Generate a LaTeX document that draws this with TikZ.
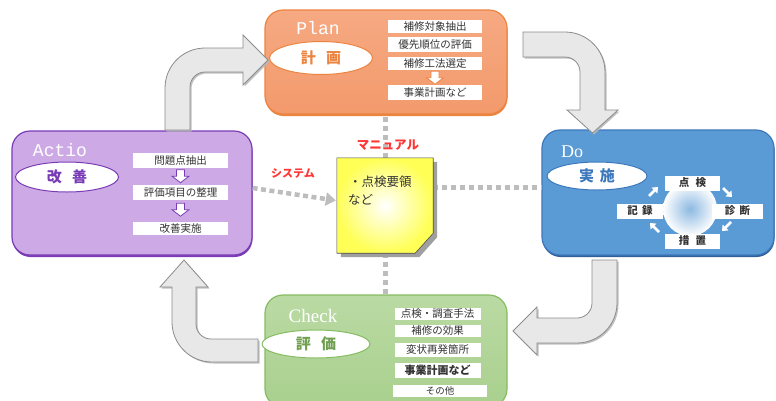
\documentclass[tikz,border=0pt]{standalone}
\usepackage{fontspec}
\setmainfont{Liberation Serif}
\newfontfamily\jp{Noto Sans CJK JP}
\newfontfamily\monottl{Liberation Mono}
\usetikzlibrary{shadows,arrows.meta,shapes.geometric,calc}
\definecolor{plF}{HTML}{F6A982}
\definecolor{plT}{HTML}{F39A6C}
\definecolor{plD}{HTML}{EC8440}
\definecolor{acF}{HTML}{CDAAE6}
\definecolor{acD}{HTML}{7A3CB5}
\definecolor{doF}{HTML}{5B9BD5}
\definecolor{doD}{HTML}{3C78BC}
\definecolor{ckF}{HTML}{A9D08E}
\definecolor{ckT}{HTML}{BADAA3}
\definecolor{ckD}{HTML}{86BC62}
\definecolor{redl}{HTML}{FF3535}
\definecolor{arrF}{HTML}{E8E8E8}
\definecolor{arrD}{HTML}{8C8C8C}
\definecolor{dotc}{HTML}{BDBDBD}
\definecolor{notey}{HTML}{FFFF55}
\definecolor{txt}{HTML}{333333}
\begin{document}
\begin{tikzpicture}[x=1pt,y=-1pt,
  phasebox/.style={rectangle, rounded corners=18pt, line width=1.2pt, inner sep=0pt},
  ttlmono/.style={font=\monottl\fontsize{18}{18}\selectfont, text=white},
  ttlser/.style={font=\fontsize{19}{19}\selectfont, text=white},
  ell/.style={ellipse, draw, fill=white, line width=1pt, inner sep=0pt, font=\jp\bfseries\fontsize{15}{15}\selectfont},
  item/.style={rectangle, fill=white, inner sep=0pt, text height=8.6pt, text depth=1.6pt, align=center, text=txt, font=\jp\fontsize{10.5}{11}\selectfont},
  cyc/.style={rectangle, fill=white, inner sep=0pt, minimum height=15pt, text height=8.6pt, text depth=1.6pt, text=txt, font=\jp\bfseries\fontsize{10.5}{11}\selectfont},
  bigarrow/.style={fill=arrF, draw=arrD, line width=0.8pt, drop shadow={shadow xshift=1.5pt, shadow yshift=-1.5pt, fill=gray!55, opacity=0.9}},
  dots/.style={draw=dotc, line width=5pt, dash pattern=on 5pt off 4pt},
  redlbl/.style={text=redl, font=\jp\bfseries\fontsize{12.5}{13}\selectfont, inner sep=0pt},
  smallarr/.style={draw=white, line width=2.6pt, -{Triangle[width=8pt,length=5pt]}},
  hdown/.pic={\path[pic actions] (-4,0) -- (4,0) -- (4,6.5) -- (8.5,6.5) -- (0,13) -- (-8.5,6.5) -- (-4,6.5) -- cycle;}
]
\useasboundingbox (0,0) rectangle (776,400);

% ---------- main phase boxes ----------
\node[phasebox, draw=plD, top color=plF, bottom color=plT, minimum width=242pt, minimum height=104pt,
  drop shadow={shadow xshift=0.5pt, shadow yshift=-2pt, fill=plD, opacity=1}] (plan) at (386,62) {};
\node[phasebox, draw=acD, fill=acF, minimum width=240pt, minimum height=124pt,
  drop shadow={shadow xshift=0.5pt, shadow yshift=-2pt, fill=acD, opacity=1}] (action) at (132,193) {};
\node[phasebox, draw=doD, fill=doF, minimum width=232pt, minimum height=125pt,
  drop shadow={shadow xshift=0.5pt, shadow yshift=-2pt, fill=doD!80!black, opacity=1}] (do) at (658,192.5) {};
\node[phasebox, draw=ckD, top color=ckT, bottom color=ckF, minimum width=242pt, minimum height=112pt] (check) at (386,351) {};

% ---------- dotted connectors ----------
\node[inner sep=0pt, minimum width=96pt, minimum height=95pt] (note) at (385,205.5) {};
\draw[dots] (note.north) -- (note.north |- plan.south);
\draw[dots] (note.south) -- (note.south |- check.north);
\draw[dots] ([yshift=18pt]note.east) -- ([yshift=18pt]note.east -| do.west);
\draw[draw=dotc, line width=4.5pt, dash pattern=on 5pt off 3.5pt, -{Triangle[width=13pt,length=10pt]}]
  ([yshift=5pt]action.east) -- ([xshift=-1pt,yshift=5pt]note.west);

% ---------- titles ----------
\node[ttlmono] (tplan) at (318,28) {Plan};
\node[ttlmono] (tact) at (60,150) {Actio};
\node[ttlser, font=\fontsize{18}{18}\selectfont] (tdo) at (572,152) {Do};
\node[ttlser] (tchk) at (313,316) {Check};

% ---------- ellipses ----------
\node[ell, draw=plD, text=plD, minimum width=103pt, minimum height=33pt] (eplan) at (321,58) {計\hspace{0.7em}画};
\node[ell, draw=acD, text=acD, minimum width=103pt, minimum height=30pt] (eact) at (67,177) {改\hspace{0.7em}善};
\node[ell, draw=doD, text=doD, minimum width=100pt, minimum height=28pt] (edo) at (597,176) {実\hspace{0.4em}施};
\node[ell, draw=ckD, text=ckD!85!black, minimum width=108pt, minimum height=28pt] (eck) at (316,344) {評\hspace{0.7em}価};

% ---------- plan items ----------
\node[item, minimum width=94pt, minimum height=13pt] (p1) at (435,26.5) {補修対象抽出};
\node[item, minimum width=94pt, minimum height=15pt] (p2) at (435,44.5) {優先順位の評価};
\node[item, minimum width=94pt, minimum height=13pt] (p3) at (435,63.5) {補修工法選定};
\node[item, minimum width=94pt, minimum height=15pt] (p4) at (435,92.5) {事業計画など};
\pic[draw=plD, fill=white, line width=0.8pt] at ([yshift=-1pt]p3.south) {hdown};

% ---------- action items ----------
\node[item, minimum width=95pt, minimum height=15pt] (a1) at (180.5,160.5) {問題点抽出};
\node[item, minimum width=95pt, minimum height=15pt] (a2) at (180.5,192.5) {評価項目の整理};
\node[item, minimum width=95pt, minimum height=13pt] (a3) at (180.5,228.5) {改善実施};
\pic[draw=acD, fill=white, line width=0.8pt] at ([yshift=-1.5pt]a1.south) {hdown};
\pic[draw=acD, fill=white, line width=0.8pt] at ([yshift=-3pt]a2.south) {hdown};

% ---------- check items ----------
\node[item, minimum width=86pt, minimum height=12pt] (c1) at (437.5,314) {点検・調査手法};
\node[item, minimum width=86pt, minimum height=12pt] (c2) at (437.5,331) {補修の効果};
\node[item, minimum width=86pt, minimum height=14pt] (c3) at (437.5,350) {変状再発箇所};
\node[item, minimum width=86pt, minimum height=15pt, font=\jp\bfseries\fontsize{11}{11}\selectfont] (c4) at (437.5,370.5) {事業計画など};
\node[item, minimum width=94pt, minimum height=12pt, font=\jp\fontsize{9.5}{10}\selectfont] (c5) at (440,391) {その他};

% ---------- do cycle ----------
\coordinate (hub) at (690,209);
\shade[inner color=doF!70!white, outer color=white] (hub) circle (27);
\node[cyc, minimum width=55pt] (tenken) at (692.5,183) {点\hspace{0.6em}検};
\node[cyc, minimum width=51pt] (shindan) at (737.5,211) {診\hspace{0.4em}断};
\node[cyc, minimum width=46pt] (kiroku) at (640,211) {記\hspace{0.4em}録};
\node[cyc, minimum width=55pt] (sochi) at (692.5,241) {措\hspace{0.6em}置};
\draw[smallarr] ($(hub)+(-41,-13)$) -- ($(hub)+(-32,-22)$);
\draw[smallarr] ($(hub)+(33,-21)$) -- ($(hub)+(42,-12)$);
\draw[smallarr] ($(hub)+(41,13)$) -- ($(hub)+(32,22)$);
\draw[smallarr] ($(hub)+(-31,23)$) -- ($(hub)+(-40,14)$);

% ---------- big cycle arrows ----------
\path[bigarrow] (165,130) -- (165,88) arc(180:270:40) -- (243,48) -- (243,35) -- (268,60) -- (243,85) -- (243,72)
  -- (205,72) arc(270:180:15) -- (190,130) -- cycle;
\path[bigarrow] (523,32) -- (565,32) arc(270:360:40) -- (605,110) -- (618,110) -- (592.5,133) -- (567,110) -- (580,110)
  -- (580,72) arc(0:-90:15) -- (523,57) -- cycle;
\path[bigarrow] (592,260) -- (617,260) -- (617,303) arc(0:90:40) -- (537,343) -- (537,355) -- (513,331) -- (537,307)
  -- (537,318) -- (577,318) arc(90:0:15) -- cycle;
\path[bigarrow] (258,339) -- (211,339) arc(90:180:15) -- (196,287) -- (208,287) -- (184,260) -- (160,287) -- (172,287)
  -- (172,322) arc(180:90:40) -- (258,362) -- cycle;

% ---------- note ----------
\fill[gray!75] ([shift={(4,4)}]note.north west) -- ([shift={(4,4)}]note.north east) -- ([shift={(4,-16)}]note.south east)
  -- ([shift={(-14,4)}]note.south east) -- ([shift={(4,4)}]note.south west) -- cycle;
\path[draw=gray!60!black, line width=0.6pt, inner color=white, outer color=notey]
  (note.north west) -- (note.north east) -- ([yshift=20pt]note.south east) -- ([xshift=-18pt]note.south east)
  -- (note.south west) -- cycle;
\node[anchor=west, text=txt, font=\jp\fontsize{12.5}{13}\selectfont, inner sep=0pt] (n1) at (349,182) {・点検要領};
\node[anchor=west, text=txt, font=\jp\fontsize{12.5}{13}\selectfont, inner sep=0pt] (n2) at (348,200) {など};

% ---------- red labels ----------
\node[redlbl] (lman) at (388,145) {マニュアル};
\node[redlbl, font=\jp\bfseries\fontsize{11}{12}\selectfont] (lsys) at (293,173) {システム};
\end{tikzpicture}
\end{document}
